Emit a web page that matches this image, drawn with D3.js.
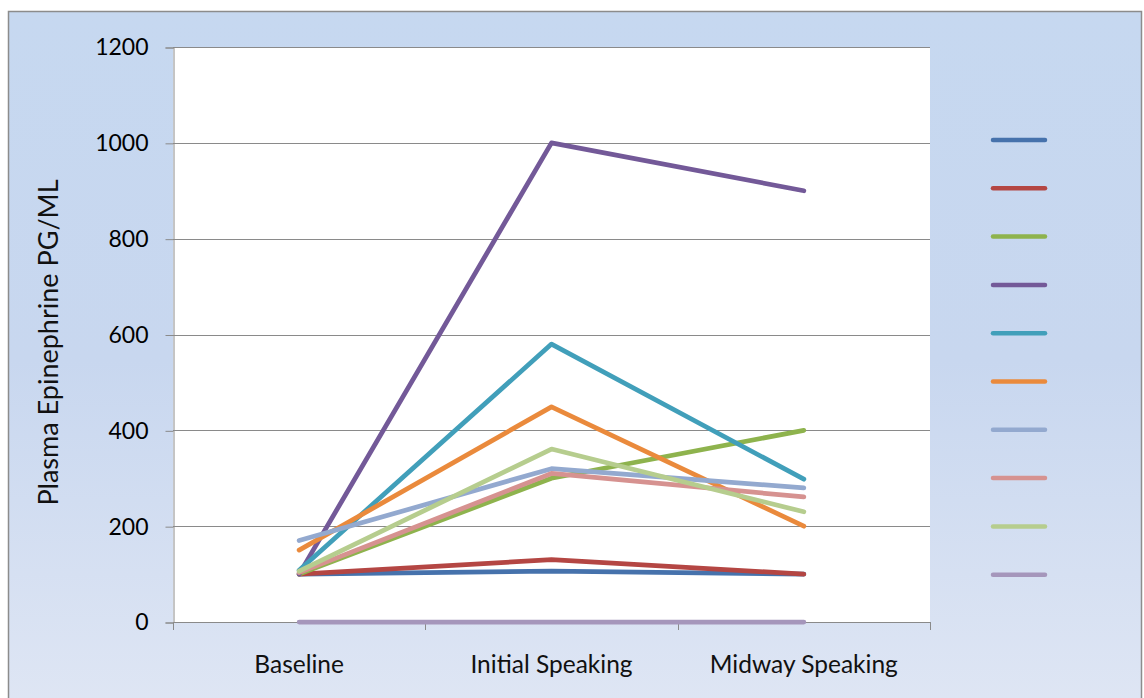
<!DOCTYPE html>
<html>
<head>
<meta charset="utf-8">
<script src="https://cdn.jsdelivr.net/npm/d3@7"></script>
<style>
  html, body { margin: 0; padding: 0; background: #fff; }
  svg { display: block; }
  text { font-family: Lato, "Open Sans", sans-serif; fill: #000; }
</style>
</head>
<body>
<svg id="chart" width="1144" height="698"></svg>
<script>
// Category labels on the x axis
const categories = ["Baseline", "Initial Speaking", "Midway Speaking"];

// Plasma epinephrine per subject (pg/mL), one array per subject
const s1  = [100, 106, 100];
const s2  = [100, 130, 100];
const s3  = [100, 300, 400];
const s4  = [100, 1000, 900];
const s5  = [108, 580, 298];
const s6  = [150, 449, 200];
const s7  = [170, 320, 280];
const s8  = [103, 310, 261];
const s9  = [106, 361, 230];
const s10 = [0, 0, 0];

const seriesValues = [s1, s2, s3, s4, s5, s6, s7, s8, s9, s10];
const seriesNames  = ["", "", "", "", "", "", "", "", "", ""];
const seriesColors = ["#4672ac", "#b44643", "#8eb34d", "#735998", "#419fba",
                      "#ea8a3c", "#93a9cf", "#d69290", "#b6cd8e", "#a596bb"];

// Y axis ticks
const yTicks = [0, 200, 400, 600, 800, 1000, 1200];
const yTitle = "Plasma Epinephrine PG/ML";

const svg = d3.select("#chart");

// Chart background with soft vertical gradient
const defs = svg.append("defs");
const grad = defs.append("linearGradient").attr("id", "bg").attr("x1", 0).attr("y1", 0).attr("x2", 0).attr("y2", 1);
grad.append("stop").attr("offset", "0%").attr("stop-color", "#c6d8f0");
grad.append("stop").attr("offset", "50%").attr("stop-color", "#c8d7ef");
grad.append("stop").attr("offset", "100%").attr("stop-color", "#dfe6f4");

svg.append("rect")
  .attr("x", 8.5).attr("y", 11.5).attr("width", 1133).attr("height", 700)
  .attr("fill", "url(#bg)").attr("stroke", "#8c8c8c").attr("stroke-width", 1.5);

// Plot area
const plot = { left: 173, top: 47, right: 930, bottom: 622 };

svg.append("rect")
  .attr("x", plot.left).attr("y", plot.top)
  .attr("width", plot.right - plot.left).attr("height", plot.bottom - plot.top)
  .attr("fill", "#ffffff");

const y = d3.scaleLinear().domain([0, 1200]).range([plot.bottom, plot.top]);
const xBand = d3.scaleBand().domain(categories).range([plot.left, plot.right]).padding(0);
const xPos = c => xBand(c) + xBand.bandwidth() / 2;

// Horizontal gridlines
svg.append("g").selectAll("line")
  .data(yTicks.filter(t => t > 0))
  .join("line")
  .attr("x1", plot.left).attr("x2", plot.right)
  .attr("y1", d => Math.round(y(d)) + 0.5).attr("y2", d => Math.round(y(d)) + 0.5)
  .attr("stroke", "#8a8a8a").attr("stroke-width", 1);

// Y axis
const yAxis = d3.axisLeft(y).tickValues(yTicks).tickFormat(d3.format("d")).tickSize(8).tickPadding(17);
const gy = svg.append("g").attr("transform", `translate(${plot.left + 0.5},0.5)`).call(yAxis);
gy.select(".domain").attr("stroke", "#8a8a8a");
gy.selectAll(".tick line").attr("stroke", "#8a8a8a");
gy.selectAll(".tick text").style("font-size", "23px").attr("font-family", "Lato, sans-serif").attr("fill", "#111");

// X axis: tick marks on category boundaries, labels at centres
const boundaries = categories.map(c => xBand(c)).concat([plot.right]);
svg.append("line")
  .attr("x1", plot.left).attr("x2", plot.right)
  .attr("y1", plot.bottom + 0.5).attr("y2", plot.bottom + 0.5)
  .attr("stroke", "#8a8a8a");
svg.append("g").selectAll("line")
  .data(boundaries).join("line")
  .attr("x1", d => Math.round(d) + 0.5).attr("x2", d => Math.round(d) + 0.5)
  .attr("y1", plot.bottom).attr("y2", plot.bottom + 8)
  .attr("stroke", "#8a8a8a");
svg.append("g").selectAll("text")
  .data(categories).join("text")
  .attr("x", d => xPos(d)).attr("y", 673)
  .attr("text-anchor", "middle")
  .style("font-size", "24.5px")
  .style("fill", "#111")
  .text(d => d);

// Y axis title
svg.append("text")
  .attr("transform", `translate(58,${(plot.top + plot.bottom) / 2 + 8}) rotate(-90)`)
  .attr("text-anchor", "middle")
  .style("font-size", "27px")
  .style("fill", "#111")
  .text(yTitle);

// Series lines
const line = d3.line()
  .x((d, i) => xPos(categories[i]))
  .y(d => y(d));

svg.append("g").selectAll("path")
  .data(seriesValues).join("path")
  .attr("d", d => line(d))
  .attr("fill", "none")
  .attr("stroke", (d, i) => seriesColors[i])
  .attr("stroke-width", 4.75)
  .attr("stroke-linejoin", "round")
  .attr("stroke-linecap", "round");

// Legend (swatches only)
const legend = svg.append("g");
const legendItems = legend.selectAll("g")
  .data(seriesNames).join("g")
  .attr("transform", (d, i) => `translate(993,${140 + i * 48.3})`);
legendItems.append("line")
  .attr("x1", 0).attr("x2", 52).attr("y1", 0).attr("y2", 0)
  .attr("stroke", (d, i) => seriesColors[i])
  .attr("stroke-width", 4.5)
  .attr("stroke-linecap", "round");
legendItems.append("text")
  .attr("x", 60).attr("y", 6)
  .style("font-size", "16px")
  .text(d => d);
</script>
</body>
</html>
